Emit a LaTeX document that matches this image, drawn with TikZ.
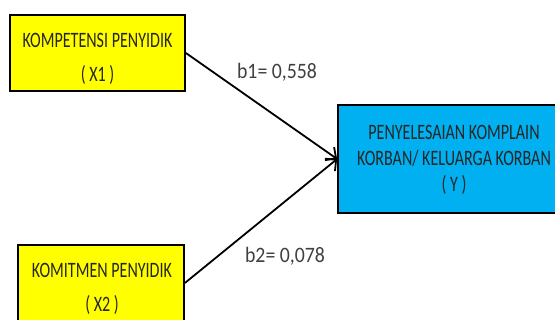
\documentclass[tikz,border=0pt]{standalone}
\usepackage{fontspec}
\setmainfont{Carlito}
\newfontfamily\boxfont[FakeStretch=0.73]{Carlito}
\newfontfamily\coeffont[FakeStretch=0.9]{Carlito}
\usetikzlibrary{arrows.meta}
\definecolor{boxyellow}{HTML}{FFFF00}
\definecolor{boxblue}{HTML}{00B0F0}
\definecolor{labelgray}{HTML}{404040}
\tikzset{
  varbox/.style={draw=black, line width=1.8pt, inner sep=0pt},
  boxtext/.style={font=\boxfont\fontsize{22}{26}\selectfont, text=black!85, align=center, inner sep=0pt},
  coef/.style={font=\coeffont\fontsize{22}{26}\selectfont, text=labelgray, inner sep=0pt},
  path/.style={draw=black, line width=1.8pt, -{Straight Barb[length=8pt,width=16pt,line width=1.8pt]}}
}
\begin{document}
\begin{tikzpicture}[x=1pt,y=-1pt]
\useasboundingbox (0,0) rectangle (555,320);
\clip (0,0) rectangle (555,320);
% independent variables
\node[varbox, fill=boxyellow, minimum width=175pt, minimum height=76pt] (x1) at (97.5,53) {};
\node[varbox, fill=boxyellow, minimum width=166pt, minimum height=76pt] (x2) at (101,283) {};
% dependent variable
\node[varbox, fill=boxblue, minimum width=232pt, minimum height=108pt] (y) at (454,159) {};
% box labels
\node[boxtext] (x1a) at (97.5,40) {KOMPETENSI PENYIDIK};
\node[boxtext] (x1b) at (97.5,75) {( X1 )};
\node[boxtext] (x2a) at (102,270) {KOMITMEN PENYIDIK};
\node[boxtext] (x2b) at (102,305) {( X2 )};
\node[boxtext] (ya) at (454,132) {PENYELESAIAN KOMPLAIN};
\node[boxtext] (yb) at (454,158) {KORBAN/ KELUARGA KORBAN};
\node[boxtext] (yc) at (454,185) {( Y )};
% regression paths
\draw[path] (x1.east) -- (y.west);
\draw[path] (x2.east) -- (y.west);
% coefficients
\node[coef] (b1) at (277,72) {b1= 0,558};
\node[coef] (b2) at (285,256) {b2= 0,078};
\end{tikzpicture}
\end{document}
